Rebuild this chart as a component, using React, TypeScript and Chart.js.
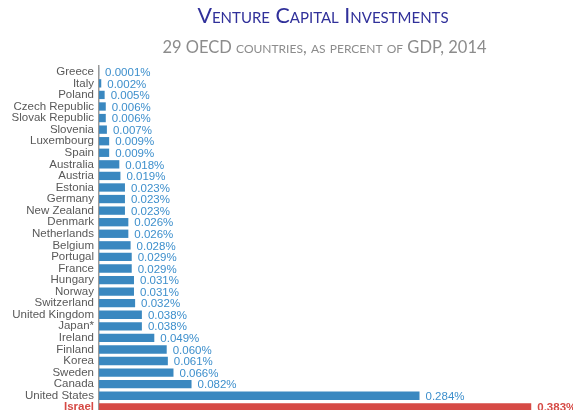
import React, { useEffect, useRef } from "react";
import { Chart, registerables } from "chart.js";

Chart.register(...registerables);

const countries = [
  "Greece", "Italy", "Poland", "Czech Republic", "Slovak Republic", "Slovenia",
  "Luxembourg", "Spain", "Australia", "Austria", "Estonia", "Germany",
  "New Zealand", "Denmark", "Netherlands", "Belgium", "Portugal", "France",
  "Hungary", "Norway", "Switzerland", "United Kingdom", "Japan*", "Ireland",
  "Finland", "Korea", "Sweden", "Canada", "United States", "Israel",
];
const values = [
  0.0001, 0.002, 0.005, 0.006, 0.006, 0.007, 0.009, 0.009, 0.018, 0.019,
  0.023, 0.023, 0.023, 0.026, 0.026, 0.028, 0.029, 0.029, 0.031, 0.031,
  0.032, 0.038, 0.038, 0.049, 0.06, 0.061, 0.066, 0.082, 0.284, 0.383,
];
const valueLabels = values.map((v) => (v < 0.001 ? v.toString() : v.toFixed(3)) + "%");
const highlight = "Israel";

const BLUE = "#3a88c0";
const LABEL_BLUE = "#3d8fcc";
const RED = "#d64a45";

const valuePlugin = {
  id: "valueLabels",
  afterDatasetsDraw(chart: any) {
    const ctx = chart.ctx;
    const meta = chart.getDatasetMeta(0);
    ctx.save();
    ctx.textBaseline = "middle";
    ctx.textAlign = "left";
    meta.data.forEach((bar: any, i: number) => {
      const isHi = countries[i] === highlight;
      ctx.fillStyle = isHi ? RED : LABEL_BLUE;
      ctx.font = (isHi ? "bold " : "") + "11.5px 'Liberation Sans', Arial, sans-serif";
      ctx.fillText(valueLabels[i], bar.x + 6, bar.y + 1);
    });
    ctx.restore();
  },
};

export default function App() {
  const ref = useRef<HTMLCanvasElement>(null);
  useEffect(() => {
    const chart = new Chart(ref.current!, {
      type: "bar",
      data: {
        labels: countries,
        datasets: [
          {
            data: values,
            backgroundColor: countries.map((c) => (c === highlight ? RED : BLUE)),
            categoryPercentage: 1,
            barPercentage: 0.72,
          },
        ],
      },
      options: {
        indexAxis: "y",
        animation: false,
        responsive: false,
        maintainAspectRatio: false,
        layout: { padding: { top: 66, bottom: 3, left: 0, right: 0 } },
        plugins: { legend: { display: false }, tooltip: { enabled: false } },
        scales: {
          x: { display: false, min: 0, max: 0.42 },
          y: {
            grid: { display: false, drawTicks: false },
            border: { display: true, color: "#9a9a9a", width: 1.5 },
            afterFit: (scale: any) => { scale.width = 99; },
            ticks: {
              padding: 5,
              autoSkip: false,
              color: (c: any) => (countries[c.index] === highlight ? RED : "#595959"),
              font: (c: any) => ({
                family: "'Liberation Sans', Arial, sans-serif",
                size: 11.5,
                weight: countries[c.index] === highlight ? "bold" : "normal",
              }),
            },
          },
        },
      } as any,
      plugins: [valuePlugin],
    });
    return () => chart.destroy();
  }, []);

  return (
    <div style={{ position: "fixed", left: 0, top: 0, width: 573, height: 410, overflow: "hidden", background: "#fff" }}>
      <canvas ref={ref} width={573} height={425} style={{ position: "absolute", left: 0, top: 0 }} />
      <div
        style={{
          position: "absolute", left: 0, top: 2, width: 646, textAlign: "center",
          fontFamily: "Lato, 'Open Sans', sans-serif", fontVariant: "small-caps",
          fontSize: 21.4, color: "#30309a", whiteSpace: "nowrap",
        }}
      >
        Venture Capital Investments
      </div>
      <div
        style={{
          position: "absolute", left: 0, top: 37, width: 649, textAlign: "center",
          fontFamily: "Lato, 'Open Sans', sans-serif", fontVariant: "small-caps",
          fontSize: 16.5, color: "#8c8c8c", whiteSpace: "nowrap",
        }}
      >
        29 OECD countries, as percent of GDP, 2014
      </div>
    </div>
  );
}
